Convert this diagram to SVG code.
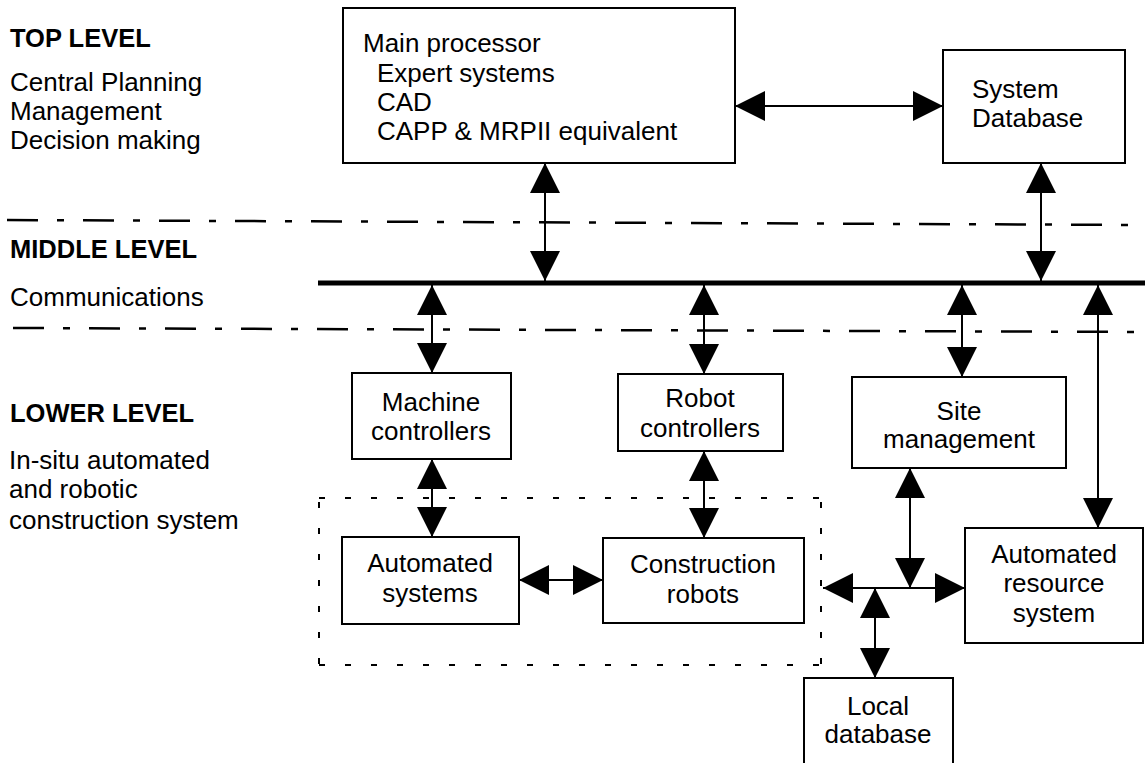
<svg xmlns="http://www.w3.org/2000/svg" width="1145" height="763" viewBox="0 0 1145 763">
<style>
text{font-family:"Liberation Sans",Arial,sans-serif;font-size:26px;fill:#000}
.b{font-weight:bold;font-size:25.5px}
.c{text-anchor:middle}
.box{fill:#fff;stroke:#000;stroke-width:2}
.con{stroke:#000;stroke-width:2;fill:none;marker-start:url(#ah);marker-end:url(#ah)}
.sep{stroke:#000;stroke-width:2.5;stroke-dasharray:31 19 7 19;fill:none}
.grp{stroke:#000;stroke-width:2;stroke-dasharray:6 20;fill:none}
</style>
<defs>
<marker id="ah" markerUnits="userSpaceOnUse" markerWidth="30" markerHeight="30" viewBox="0 0 30 30" refX="30" refY="15" orient="auto-start-reverse">
<path d="M0,0 L30,15 L0,30 z" fill="#000"/>
</marker>
</defs>
<rect width="1145" height="763" fill="#fff"/>

<g id="levels">
<text class="b" x="10" y="47">TOP LEVEL</text>
<text x="10" y="91">Central Planning</text>
<text x="10" y="120">Management</text>
<text x="10" y="149">Decision making</text>
<text class="b" x="10" y="258">MIDDLE LEVEL</text>
<text x="10" y="306">Communications</text>
<text class="b" x="10" y="422">LOWER LEVEL</text>
<text x="9" y="469">In-situ automated</text>
<text x="9" y="498">and robotic</text>
<text x="9" y="529">construction system</text>
<line class="sep" x1="7" y1="220" x2="1145" y2="225"/>
<line class="sep" x1="13" y1="328" x2="1145" y2="332"/>
<line class="grp" x1="319" y1="498" x2="821" y2="498"/>
<line class="grp" x1="319" y1="665" x2="821" y2="665"/>
<line class="grp" x1="319" y1="502" x2="319" y2="665"/>
<line class="grp" x1="821" y1="502" x2="821" y2="665"/>
</g>

<g id="connectors">
<line x1="318" y1="283" x2="1145" y2="283" stroke="#000" stroke-width="5"/>
<line class="con" x1="735" y1="106" x2="943" y2="106"/>
<line class="con" x1="545" y1="163" x2="545" y2="281"/>
<line class="con" x1="1041" y1="163" x2="1041" y2="281"/>
<line class="con" x1="432" y1="285" x2="432" y2="373"/>
<line class="con" x1="704" y1="285" x2="704" y2="374"/>
<line class="con" x1="962" y1="285" x2="962" y2="377"/>
<line class="con" x1="1098" y1="285" x2="1098" y2="528"/>
<line class="con" x1="432" y1="459" x2="432" y2="537"/>
<line class="con" x1="704" y1="451" x2="704" y2="538"/>
<line class="con" x1="519" y1="580" x2="603" y2="580"/>
<line class="con" x1="823" y1="588" x2="965" y2="588"/>
<line class="con" x1="910" y1="468" x2="910" y2="588"/>
<line class="con" x1="875" y1="588" x2="875" y2="678"/>
</g>

<g id="main-processor">
<rect class="box" x="343" y="8" width="392" height="155"/>
<text x="363" y="52">Main processor</text>
<text x="377" y="82">Expert systems</text>
<text x="377" y="111">CAD</text>
<text x="377" y="140">CAPP &amp; MRPII equivalent</text>
</g>

<g id="system-database">
<rect class="box" x="943" y="50" width="182" height="113"/>
<text x="972" y="98">System</text>
<text x="972" y="127">Database</text>
</g>

<g id="machine-controllers">
<rect class="box" x="352" y="373" width="159" height="86"/>
<text class="c" x="431" y="411">Machine</text>
<text class="c" x="431" y="440">controllers</text>
</g>

<g id="robot-controllers">
<rect class="box" x="618" y="374" width="165" height="77"/>
<text class="c" x="700" y="407">Robot</text>
<text class="c" x="700" y="437">controllers</text>
</g>

<g id="site-management">
<rect class="box" x="852" y="377" width="214" height="91"/>
<text class="c" x="959" y="420">Site</text>
<text class="c" x="959" y="448">management</text>
</g>

<g id="automated-systems">
<rect class="box" x="342" y="537" width="177" height="87"/>
<text class="c" x="430" y="572">Automated</text>
<text class="c" x="430" y="602">systems</text>
</g>

<g id="construction-robots">
<rect class="box" x="603" y="538" width="201" height="85"/>
<text class="c" x="703" y="573">Construction</text>
<text class="c" x="703" y="603">robots</text>
</g>

<g id="automated-resource-system">
<rect class="box" x="965" y="528" width="178" height="115"/>
<text class="c" x="1054" y="563">Automated</text>
<text class="c" x="1054" y="592">resource</text>
<text class="c" x="1054" y="622">system</text>
</g>

<g id="local-database">
<rect class="box" x="804" y="678" width="149" height="95"/>
<text class="c" x="878" y="715">Local</text>
<text class="c" x="878" y="743">database</text>
</g>
</svg>
